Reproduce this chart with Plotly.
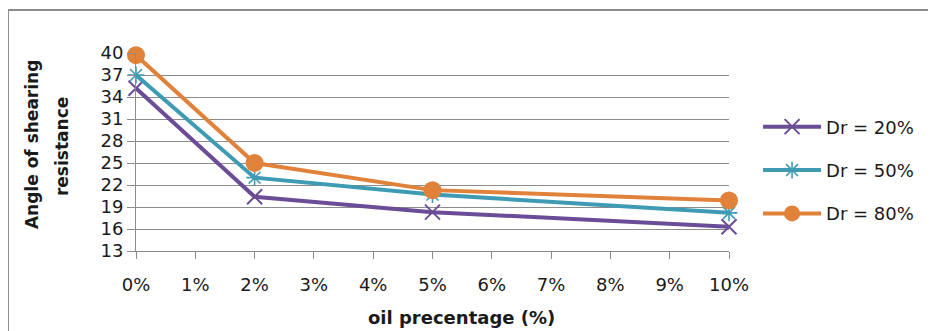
import plotly.graph_objects as go

oil_pct = [0, 2, 5, 10]
dr20 = [35.2, 20.4, 18.3, 16.3]
dr50 = [37.0, 23.0, 20.7, 18.2]
dr80 = [39.7, 25.0, 21.3, 19.9]
series_names = ["Dr = 20%", "Dr = 50%", "Dr = 80%"]
x_tick_vals = list(range(0, 11))
x_tick_text = [f"{v}%" for v in x_tick_vals]
y_tick_vals = [13, 16, 19, 22, 25, 28, 31, 34, 37, 40]

PURPLE = "#6B4C96"
TEAL = "#3E9BB3"
ORANGE = "#E0823A"
GRID = "#8C8C8C"
FONT = "DejaVu Sans"

fig = go.Figure()
fig.add_trace(go.Scatter(
    x=oil_pct, y=dr20, name=series_names[0], mode="lines+markers",
    line=dict(color=PURPLE, width=4),
    marker=dict(symbol="x-thin", size=15, line=dict(color=PURPLE, width=2), color=PURPLE),
    legendgroup="a", cliponaxis=False))
fig.add_trace(go.Scatter(
    x=oil_pct, y=dr50, name=series_names[1], mode="lines+markers",
    line=dict(color=TEAL, width=4),
    marker=dict(symbol="asterisk-open", size=14, line=dict(color=TEAL, width=1.6), color=TEAL),
    legendgroup="b", cliponaxis=False))
fig.add_trace(go.Scatter(
    x=oil_pct, y=dr80, name=series_names[2], mode="lines+markers",
    line=dict(color=ORANGE, width=4),
    marker=dict(symbol="circle", size=18, color=ORANGE),
    legendgroup="c", cliponaxis=False))

fig.update_layout(
    width=936, height=331,
    margin=dict(l=128, r=215, t=45, b=88),
    paper_bgcolor="white", plot_bgcolor="white",
    font=dict(family=FONT, size=18, color="#1a1a1a"),
    showlegend=True,
    legend=dict(x=1.049, y=0.72, xanchor="left", yanchor="top",
                font=dict(family=FONT, size=18, color="#1a1a1a"),
                tracegroupgap=17, itemwidth=58, bgcolor="rgba(0,0,0,0)"),
    xaxis=dict(range=[0, 10], tickvals=x_tick_vals, ticktext=x_tick_text,
               showgrid=False, zeroline=False, showline=True, linecolor=GRID, linewidth=1,
               ticks="outside", ticklen=7, tickcolor=GRID, tickwidth=1,
               ticklabelstandoff=10, tickfont=dict(size=18)),
    yaxis=dict(range=[13, 40], tickvals=y_tick_vals,
               showgrid=True, gridcolor=GRID, gridwidth=1, zeroline=False,
               showline=True, linecolor=GRID, linewidth=1,
               ticks="outside", ticklen=8, tickcolor=GRID, tickwidth=1,
               tickfont=dict(size=18)),
)

# chart frame (top and left edges visible)
fig.add_shape(type="line", xref="paper", yref="paper", x0=-0.2159, x1=1.4, y0=1.2172, y1=1.2172,
              line=dict(color="#8C8C8C", width=2))
fig.add_shape(type="line", xref="paper", yref="paper", x0=-0.2159, x1=-0.2159, y0=1.2172, y1=-0.5,
              line=dict(color="#8C8C8C", width=2))

fig.add_annotation(text="<b>Angle of shearing</b>", xref="paper", yref="paper",
                   x=-0.1754, y=0.54, textangle=-90, showarrow=False,
                   xanchor="center", yanchor="middle",
                   font=dict(family=FONT, size=17, color="#1a1a1a"))
fig.add_annotation(text="<b>resistance</b>", xref="paper", yref="paper",
                   x=-0.1248, y=0.53, textangle=-90, showarrow=False,
                   xanchor="center", yanchor="middle",
                   font=dict(family=FONT, size=17, color="#1a1a1a"))
fig.add_annotation(text="<b>oil precentage (%)</b>", xref="paper", yref="paper",
                   x=0.5497, y=-0.338, showarrow=False,
                   xanchor="center", yanchor="middle",
                   font=dict(family=FONT, size=18, color="#1a1a1a"))

fig.write_html("out.html")
